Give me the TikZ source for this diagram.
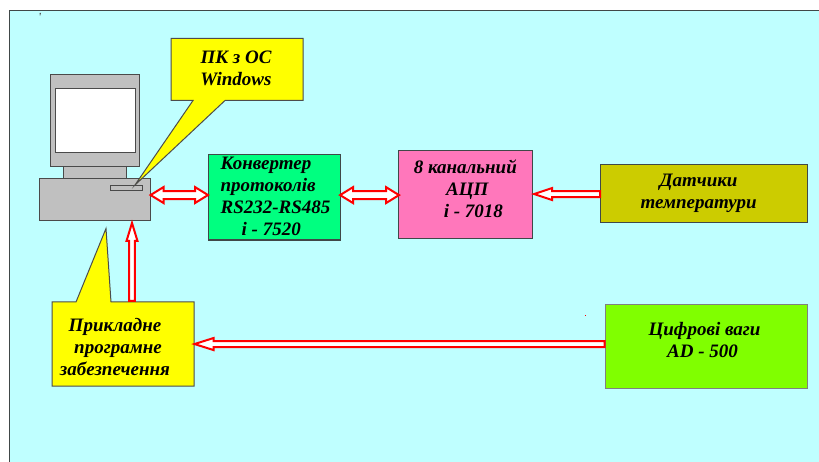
\documentclass[tikz,border=0pt]{standalone}
\usepackage{fontspec}
\setmainfont{Liberation Serif}
\usetikzlibrary{calc}
\definecolor{bgc}{HTML}{BFFFFF}
\definecolor{edgec}{HTML}{404848}
\definecolor{yel}{HTML}{FFFF00}
\definecolor{grn}{HTML}{00FF80}
\definecolor{pnk}{HTML}{FF77BB}
\definecolor{oli}{HTML}{CCCC00}
\definecolor{lim}{HTML}{80FF00}
\definecolor{gry}{HTML}{C0C0C0}
\definecolor{gryd}{HTML}{4A4A4A}
\tikzset{
  lbl/.style={font=\bfseries\itshape\fontsize{19}{22}\selectfont,align=center,inner sep=0pt},
  boxed/.style={lbl,draw=edgec,line width=1.1pt,anchor=north west},
  pcpart/.style={draw=gryd,line width=1.1pt,fill=gry,inner sep=0pt,anchor=north west},
  callout/.style={draw=gray!60!black,line width=1pt,fill=yel,line join=miter},
  blockar/.style={draw=red,line width=2pt,fill=white,line join=miter}
}
% text block raised by #1 inside its node, without changing the node's size; #2 column spec, #3 lines
\newcommand{\liftbox}[3]{\raisebox{#1}{\smash{\begin{tabular}[c]{#2}#3\end{tabular}}}}
% one-headed block arrow from #1 to tip #2: head length #3, head half-width #4, shaft half-width #5
\newcommand{\onearrow}[5]{%
  \path[blockar]
    ($(#1)!#5pt!90:(#2)$) --
    ($($(#2)!#3pt!(#1)$)!#5pt!90:(#2)$) --
    ($($(#2)!#3pt!(#1)$)!#4pt!90:(#2)$) --
    (#2) --
    ($($(#2)!#3pt!(#1)$)!#4pt!-90:(#2)$) --
    ($($(#2)!#3pt!(#1)$)!#5pt!-90:(#2)$) --
    ($(#1)!#5pt!-90:(#2)$) -- cycle;}
% two-headed block arrow between #1 and #2
\newcommand{\twoarrow}[5]{%
  \path[blockar]
    (#1) --
    ($($(#1)!#3pt!(#2)$)!#4pt!90:(#2)$) --
    ($($(#1)!#3pt!(#2)$)!#5pt!90:(#2)$) --
    ($($(#2)!#3pt!(#1)$)!#5pt!90:(#2)$) --
    ($($(#2)!#3pt!(#1)$)!#4pt!90:(#2)$) --
    (#2) --
    ($($(#2)!#3pt!(#1)$)!#4pt!-90:(#2)$) --
    ($($(#2)!#3pt!(#1)$)!#5pt!-90:(#2)$) --
    ($($(#1)!#3pt!(#2)$)!#5pt!-90:(#2)$) --
    ($($(#1)!#3pt!(#2)$)!#4pt!-90:(#2)$) -- cycle;}
\begin{document}
\begin{tikzpicture}[x=1pt,y=-1pt]
\useasboundingbox (0,0) rectangle (819,462);
% background panel
\fill[bgc] (9.5,10.5) rectangle (819,462);
\draw[edgec,line width=1pt] (9.5,462) -- (9.5,10.5) -- (819,10.5);
\fill[gryd] (39.5,13) -- (41,13) -- (40,16) -- cycle;
\fill[red] (584.5,314.5) rectangle (586,316);
% computer
\node[pcpart,minimum width=89.5pt,minimum height=92pt] (monitor) at (49.5,74) {};
\node[draw=gryd,line width=1.1pt,fill=white,inner sep=0pt,anchor=north west,minimum width=80pt,minimum height=64pt] (screen) at (55,88) {};
\node[pcpart,minimum width=63pt,minimum height=12pt] (stand) at (63,166) {};
\node[pcpart,minimum width=110.5pt,minimum height=42pt] (pcbase) at (39,178) {};
\node[pcpart,minimum width=32pt,minimum height=5pt] (slot) at (110,185) {};
% callouts
\path[callout] (171,38.5) -- (303,38.5) -- (303,100.5) -- (225,100.5) -- (135,185) -- (193,100.5) -- (171,100.5) -- cycle;
\node[lbl] (pctext) at (236,68) {ПК з ОС\\Windows};
\path[callout] (52,302) -- (76,302) -- (106,228.5) -- (111,302) -- (194,302) -- (194,386) -- (52,386) -- cycle;
\node[lbl] (apptext) at (115,347) {Прикладне\\\hspace*{6pt}програмне\\забезпечення};
% blocks
\node[boxed,fill=grn,minimum width=132pt,minimum height=85.5pt] (conv) at (208,154) {\liftbox{-10.75pt}{@{\hspace{2pt}}l@{}}{Конвертер\\протоколів\\RS232-RS485\\\hspace*{21pt}i - 7520}};
\node[boxed,fill=pnk,minimum width=134.5pt,minimum height=88pt] (adc) at (397.5,150) {\liftbox{-2pt}{@{}c@{}}{8 канальний\\\hspace*{4pt}АЦП\\\hspace*{16pt}i - 7018}};
\node[boxed,fill=oli,minimum width=207pt,minimum height=58pt] (sens) at (600,163.7) {Датчики\hspace*{11pt}\\температури\hspace*{11pt}};
\node[boxed,draw=gray,fill=lim,minimum width=202.5pt,minimum height=84pt] (scales) at (604.7,304) {\liftbox{0.5pt}{@{}c@{}}{Цифрові ваги\hspace*{4pt}\\AD - 500\hspace*{8pt}}};
% connector ends
\coordinate (a1) at ($(pcbase.east)+(0,-4.5)$);
\coordinate (a2) at (conv.west |- a1);
\coordinate (b1) at ($(conv.east)+(-1,-2.2)$);
\coordinate (b2) at ($(adc.west |- b1)+(1.5,0)$);
\coordinate (c1) at ($(sens.west)+(0,0.8)$);
\coordinate (c2) at ($(adc.east |- c1)+(1,0)$);
\coordinate (d0) at (132,301);
\coordinate (d2) at (132,223);
\coordinate (e1) at ($(scales.west)+(0,-2.5)$);
\coordinate (e0) at (194.5,0);
\coordinate (e3) at (e0 |- e1);
\twoarrow{a1}{a2}{13}{8}{4}
\twoarrow{b1}{b2}{13}{8}{4}
\onearrow{c1}{c2}{18}{6}{3}
\onearrow{d0}{d2}{18}{5.5}{2.8}
\onearrow{e1}{e3}{19}{6}{3}
\end{tikzpicture}
\end{document}
